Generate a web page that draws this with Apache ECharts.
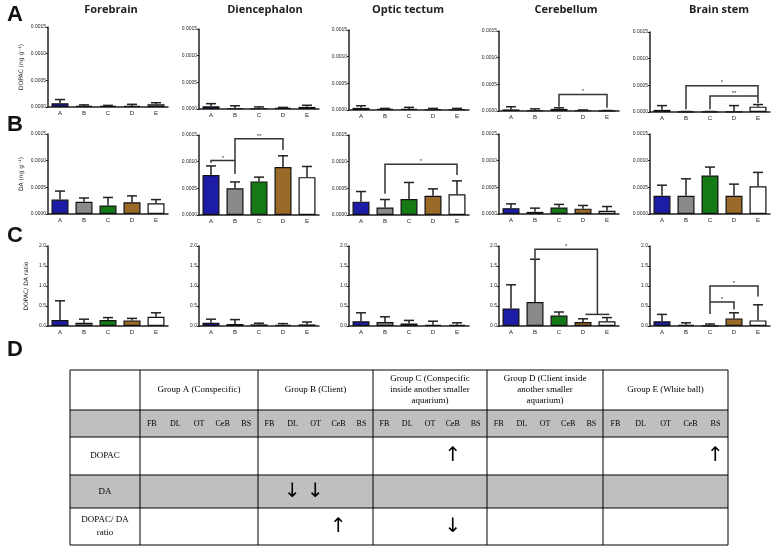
<!DOCTYPE html>
<html><head><meta charset="utf-8">
<script src="https://cdn.jsdelivr.net/npm/echarts@6.0.0/dist/echarts.min.js"></script>
<style>html,body{margin:0;padding:0;background:#fff}#c{width:775px;height:547px}</style>
</head><body><div id="c"></div><script>
const groups = ['A','B','C','D','E'];
const regions = ['Forebrain','Diencephalon','Optic tectum','Cerebellum','Brain stem'];
const yNames = ['DOPAC (ng g⁻¹)','DA (ng g⁻¹)','DOPAC/ DA ratio'];

// Row A: DOPAC means and upper error-bar ends (per region, groups A-E)
const dopacMean = [
 [0.00007,0.00002,0.00002,0.00002,0.00005],
 [0.00005,0.00001,0.00001,0.00002,0.00004],
 [0.00004,0.00002,0.00002,0.00001,0.00001],
 [0.00003,0.00001,0.00004,0.00001,0.000005],
 [0.00004,0.000005,0.000005,0.000005,0.0001]];
const dopacErr = [
 [0.00014,0.00004,0.00003,0.00005,0.00008],
 [0.0001,0.00006,0.00004,0.00003,0.00007],
 [0.00008,0.00003,0.00005,0.00003,0.00003],
 [0.00008,0.00004,0.00006,0.00002,0.00001],
 [0.00012,0.00001,0.00001,0.00012,0.00014]];
// Row B: DA
const daMean = [
 [0.00027,0.00023,0.00016,0.00022,0.0002],
 [0.00075,0.0005,0.00063,0.0009,0.00071],
 [0.00025,0.00014,0.0003,0.00036,0.00039],
 [0.00011,0.00004,0.00012,0.0001,0.00006],
 [0.00034,0.00034,0.00072,0.00034,0.00052]];
const daErr = [
 [0.00043,0.0003,0.00031,0.00034,0.00027],
 [0.00092,0.00062,0.00071,0.00111,0.00091],
 [0.00044,0.00029,0.00061,0.00049,0.00064],
 [0.00019,0.00011,0.00018,0.00016,0.00014],
 [0.00054,0.00066,0.00088,0.00056,0.00078]];
// Row C: DOPAC/DA ratio
const ratioMean = [
 [0.15,0.08,0.15,0.14,0.23],
 [0.08,0.05,0.04,0.03,0.04],
 [0.12,0.1,0.06,0.03,0.03],
 [0.44,0.6,0.26,0.1,0.12],
 [0.12,0.03,0.01,0.19,0.14]];
const ratioErr = [
 [0.63,0.17,0.21,0.19,0.33],
 [0.17,0.16,0.07,0.06,0.1],
 [0.33,0.23,0.14,0.12,0.08],
 [1.03,1.67,0.35,0.18,0.21],
 [0.29,0.08,0.05,0.33,0.53]];

const yTicksAB = [0,0.0005,0.001,0.0015];
const yTicksC = [0,0.5,1,1.5,2];

// significance brackets: [row, col, polyline points [catIdx, value], label, label point]
const brackets = [
 [0,3,[[2,0.00008],[2,0.00031],[4,0.00031],[4,0.00006]],'*',[3,0.00036]],
 [0,4,[[1,0.00005],[1,0.00049],[4,0.00049],[4,0.00017]],'*',[2.5,0.00055]],
 [0,4,[[2,0.00005],[2,0.0003],[4,0.0003]],'**',[3,0.00035]],
 [1,1,[[0,0.00098],[0,0.00102],[1,0.00102]],'*',[0.5,0.00107]],
 [1,1,[[1,0.00077],[1,0.00143],[3,0.00143],[3,0.00122]],'**',[2,0.00148]],
 [1,2,[[1,0.0004],[1,0.00095],[4,0.00095],[4,0.00075]],'*',[2.5,0.001]],
 [2,3,[[1,1.69],[1,1.92],[3.6,1.92],[3.6,0.29]],'*',[2.3,1.98]],
 [2,3,[[3.1,0.29],[4.1,0.29]],'',[3.5,0.29]],
 [2,4,[[2,0.3],[2,1.0],[4,1.0],[4,0.74]],'*',[3,1.07]],
 [2,4,[[2,0.6],[3,0.6],[3,0.41]],'*',[2.5,0.67]]
];

// table (panel D)
const tableGroups = ['Group A (Conspecific)','Group B (Client)','Group C (Conspecific\ninside another smaller\naquarium)','Group D (Client inside\nanother smaller\naquarium)','Group E (White ball)'];
const subCols = ['FB','DL','OT','CeB','BS'];
const tableRows = ['DOPAC','DA','DOPAC/ DA\nratio'];
// arrows: [rowIndex, groupIndex, subColIndex, direction]
const tableArrows = [
 [0,2,3,'↑'],[0,4,4,'↑'],
 [1,1,1,'↓'],[1,1,2,'↓'],
 [2,1,3,'↑'],[2,2,3,'↓']
];

const barColors = ['#1c1ca6','#8a8a8a','#157a15','#9a6a28','#ffffff'];
const colLeft = [48,199,349,499,650];
const rowTop = [[27,29,30,31,32],[134,135,135,134,134],[246,246,246,246,246]];
const plotW = 120, plotH = 80;
const means = [dopacMean, daMean, ratioMean];
const errs = [dopacErr, daErr, ratioErr];

const grids=[], xAxes=[], yAxes=[], series=[];
const ink = '#222';
for (let r=0;r<3;r++){
  for (let c=0;c<5;c++){
    const idx = r*5+c;
    grids.push({left:colLeft[c], top:rowTop[r][c], width:plotW, height:plotH});
    xAxes.push({type:'category', gridIndex:idx, data:groups,
      axisLine:{lineStyle:{color:ink,width:1.5}},
      axisTick:{alignWithLabel:true,length:2,lineStyle:{color:ink}},
      axisLabel:{fontSize:6,color:ink,margin:3,fontFamily:'Liberation Sans'}});
    const ticks = r<2?yTicksAB:yTicksC;
    yAxes.push({type:'value', gridIndex:idx, min:ticks[0], max:ticks[ticks.length-1],
      interval:ticks[1]-ticks[0],
      axisLine:{show:true,lineStyle:{color:ink,width:1.5}},
      axisTick:{show:true,length:2,lineStyle:{color:ink}},
      splitLine:{show:false},
      axisLabel:{fontSize:5,color:ink,margin:2,fontFamily:'Liberation Sans',
        formatter:v=> r<2? v.toFixed(4): v.toFixed(1)},
      name: c===0? yNames[r] : '', nameLocation:'middle', nameRotate:90,
      nameGap: r<2?24:19,
      nameTextStyle:{fontSize:6,color:ink,fontFamily:'DejaVu Sans'}});
    series.push({type:'bar', xAxisIndex:idx, yAxisIndex:idx, barWidth:17,
      data: means[r][c].map((v,i)=>({value:v,itemStyle:{color:barColors[i]}})),
      itemStyle:{borderColor:'#111',borderWidth:1.2}, silent:true, z:2});
    series.push({type:'custom', xAxisIndex:idx, yAxisIndex:idx, z:3,
      data: errs[r][c].map((e,i)=>[i, means[r][c][i], e]),
      renderItem:(p,api)=>{
        const a = api.coord([api.value(0), api.value(1)]);
        const b = api.coord([api.value(0), api.value(2)]);
        return {type:'group', children:[
          {type:'line', shape:{x1:a[0],y1:a[1],x2:b[0],y2:b[1]}, style:{stroke:ink,lineWidth:1.5}},
          {type:'line', shape:{x1:b[0]-5,y1:b[1],x2:b[0]+5,y2:b[1]}, style:{stroke:ink,lineWidth:1.5}}
        ]};
      }});
    const bl = brackets.filter(b=>b[0]===r && b[1]===c);
    if (bl.length){
      series.push({type:'custom', xAxisIndex:idx, yAxisIndex:idx, z:4,
        data: bl.map((b,k)=>[k,0]),
        renderItem:(p,api)=>{
          const b = bl[p.dataIndex];
          const pt = (q)=>{
            const lo=Math.floor(q[0]), hi=Math.ceil(q[0]);
            const A=api.coord([lo,q[1]]), B=api.coord([hi,q[1]]);
            const t=q[0]-lo;
            return [A[0]+(B[0]-A[0])*t, A[1]];
          };
          const pts = b[2].map(pt);
          const lp = pt(b[4]);
          const ch = [{type:'polyline', shape:{points:pts}, style:{stroke:'#333',lineWidth:1.5,fill:null}}];
          if (b[3]) ch.push({type:'text', x:lp[0], y:lp[1], style:{text:b[3],fontSize:6,fill:'#333',align:'center',verticalAlign:'middle',fontFamily:'Liberation Sans'}});
          return {type:'group', children:ch};
        }});
    }
  }
}

const graphics = [];
// panel titles
const titleX = [111,265,408,566,719];
regions.forEach((t,i)=>graphics.push({type:'text', x:titleX[i], y:10, style:{text:t, fontSize:11, fontWeight:'bold', fill:'#222', align:'center', verticalAlign:'middle', fontFamily:'Open Sans'}}));
// panel letters
const letterY = [15,125,236,350];
['A','B','C','D'].forEach((t,i)=>graphics.push({type:'text', x:15, y:letterY[i], style:{text:t, fontSize:22, fontWeight:'bold', fill:'#111', align:'center', verticalAlign:'middle', fontFamily:'Liberation Sans'}}));

// table geometry
const tX = [70,140,258,373,487,603,728];
const tY = [370,410,437,475,508,545];
const serif = 'Liberation Serif';
[[1,2],[3,4]].forEach(([a,b])=>graphics.push({type:'rect', shape:{x:tX[0],y:tY[a],width:tX[6]-tX[0],height:tY[b]-tY[a]}, style:{fill:'#bfbfbf'}}));
tY.forEach(y=>graphics.push({type:'line', shape:{x1:tX[0],y1:y,x2:tX[6],y2:y}, style:{stroke:'#000',lineWidth:1}}));
tX.forEach(x=>graphics.push({type:'line', shape:{x1:x,y1:tY[0],x2:x,y2:tY[5]}, style:{stroke:'#000',lineWidth:1}}));
tableGroups.forEach((t,g)=>graphics.push({type:'text', x:(tX[g+1]+tX[g+2])/2, y:(tY[0]+tY[1])/2, style:{text:t, fontSize:9, fill:'#000', align:'center', verticalAlign:'middle', fontFamily:serif, lineHeight:11}}));
const subX = (g,s)=> tX[g+1] + (tX[g+2]-tX[g+1])*(s+0.5)/5;
for (let g=0; g<5; g++) subCols.forEach((s,k)=>graphics.push({type:'text', x:subX(g,k), y:(tY[1]+tY[2])/2, style:{text:s, fontSize:8, fill:'#000', align:'center', verticalAlign:'middle', fontFamily:serif}}));
tableRows.forEach((t,i)=>graphics.push({type:'text', x:(tX[0]+tX[1])/2, y:(tY[i+2]+tY[i+3])/2, style:{text:t, fontSize:9, fill:'#000', align:'center', verticalAlign:'middle', fontFamily:serif, lineHeight:13}}));
tableArrows.forEach(([ri,g,s,d])=>graphics.push({type:'text', x:subX(g,s), y:(tY[ri+2]+tY[ri+3])/2, style:{text:d, fontSize:20, fill:'#000', align:'center', verticalAlign:'middle', fontFamily:'DejaVu Sans'}}));

const chart = echarts.init(document.getElementById('c'));
chart.setOption({animation:false, backgroundColor:'#fff', grid:grids, xAxis:xAxes, yAxis:yAxes, series:series, graphic:graphics});
</script></body></html>
